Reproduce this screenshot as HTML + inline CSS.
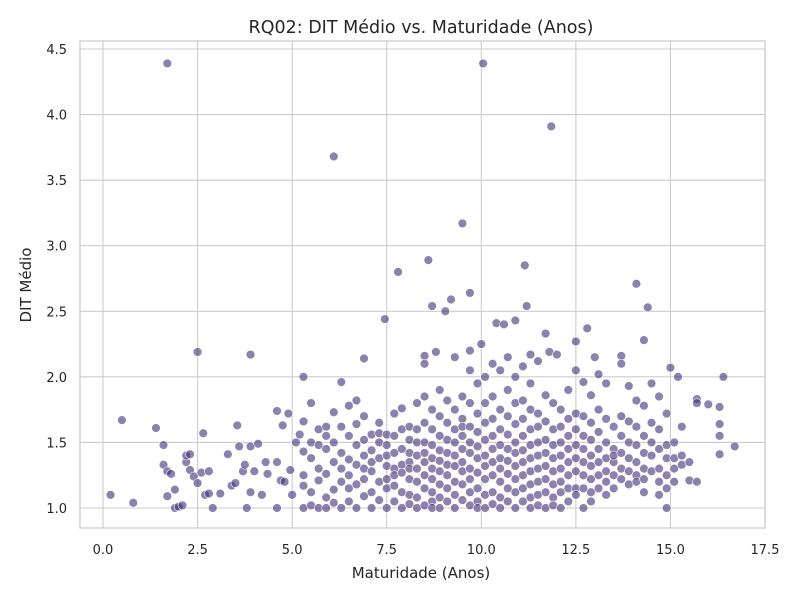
<!DOCTYPE html>
<html><head><meta charset="utf-8"><style>
body{margin:0;background:#fff;}
svg{display:block;font-family:"DejaVu Sans","Liberation Sans",sans-serif;}
</style></head><body>
<svg id="chart" width="799" height="599">
<rect x="0" y="0" width="799" height="599" fill="#fff"/>
<g id="grid"></g>
<g id="points"></g>
<rect x="80" y="41" width="685" height="487" fill="none" stroke="#ccc" stroke-width="1.3"/>
<g id="ticks"></g>
<text x="421" y="33" text-anchor="middle" font-size="17.5" fill="#262626">RQ02: DIT Médio vs. Maturidade (Anos)</text>
<text x="421" y="578" text-anchor="middle" font-size="15" fill="#262626">Maturidade (Anos)</text>
<text x="31" y="285" text-anchor="middle" font-size="15" fill="#262626" transform="rotate(-90 31 285)">DIT Médio</text>
</svg>
<script>
const xTicks=[0,2.5,5,7.5,10,12.5,15,17.5];
const xTickLabels=["0.0","2.5","5.0","7.5","10.0","12.5","15.0","17.5"];
const yTicks=[1,1.5,2,2.5,3,3.5,4,4.5];
const yTickLabels=["1.0","1.5","2.0","2.5","3.0","3.5","4.0","4.5"];
const outX=[1.7,10.05,11.85,6.1,9.5,8.6,11.15,7.8,14.1,9.7,9.2,8.7,9.05,11.2,14.4,7.45,10.9,10.4,10.6,12.8,11.7,14.3,12.5,10.0,2.5,3.9,6.9,8.8,9.7,11.8,12.0,13.7,13.0,8.5,11.3,15.0,15.2,16.4,5.3];
const outY=[4.39,4.39,3.91,3.68,3.17,2.89,2.85,2.8,2.71,2.64,2.59,2.54,2.5,2.54,2.53,2.44,2.43,2.41,2.4,2.37,2.33,2.28,2.27,2.25,2.19,2.17,2.14,2.19,2.2,2.19,2.17,2.16,2.15,2.16,2.17,2.07,2.0,2.0,2.0];
const leftX=[0.2,0.5,0.8,1.4,1.6,1.6,1.7,1.8,1.7,1.9,1.9,2.0,2.1,2.2,2.2,2.3,2.3,2.4,2.5,2.6,2.65,2.7,2.8,2.9,2.8,3.1,3.3,3.4,3.5,3.55,3.6,3.7,3.75,3.8,3.9,3.9,4.0,4.1,4.2,4.3,4.35,4.6,4.6,4.6,4.7,4.75,4.8,4.9,4.95,5.0,5.1,5.2];
const leftY=[1.1,1.67,1.04,1.61,1.48,1.33,1.28,1.26,1.09,1.14,1.0,1.01,1.02,1.35,1.4,1.41,1.29,1.24,1.19,1.27,1.57,1.1,1.28,1.0,1.11,1.11,1.41,1.17,1.19,1.63,1.47,1.28,1.33,1.0,1.47,1.12,1.28,1.49,1.1,1.35,1.26,1.74,1.35,1.0,1.21,1.63,1.2,1.72,1.29,1.1,1.5,1.56];
const rowX=[5.3,5.5,5.7,5.9,6.1,6.3,6.5,6.7,6.9,7.1,7.3,7.5,7.7,7.9,8.1,8.3,8.5,8.7,8.9,9.1,9.3,9.5,9.7,9.9,10.1,10.3,10.5,10.7,10.9,11.1,11.3,11.5,11.7,11.9,12.1,12.3,12.5,12.7,12.9,13.1,13.3,13.5,13.7,13.9,14.1,14.3,14.5,14.7,14.9,15.1,15.3,15.5,15.7,16.0,16.3,16.7];
const rowY=[[1.66,1.43,1.25,1.0,1.17],[1.8,1.5,1.38,1.12,1.02],[1.6,1.3,1.21,1.0,1.48],[1.55,1.45,1.08,1.0,1.62,1.26],[1.73,1.5,1.35,1.14,1.04],[1.96,1.62,1.42,1.2,1.0,1.3],[1.78,1.55,1.37,1.15,1.05,1.25],[1.82,1.64,1.48,1.33,1.18,1.0],[1.7,1.52,1.4,1.22,1.09,1.3],[1.56,1.44,1.35,1.28,1.12,1.0],[1.65,1.5,1.38,1.2,1.06,1.57],[1.48,1.32,1.22,1.15,1.0,1.56,1.4],[1.72,1.55,1.42,1.3,1.17,1.05,1.25],[1.76,1.6,1.45,1.33,1.27,1.12,1.0],[1.62,1.52,1.42,1.35,1.22,1.1,1.03,1.3],[1.8,1.6,1.5,1.4,1.3,1.2,1.08,1.0],[2.1,1.85,1.65,1.5,1.42,1.35,1.25,1.15,1.02],[1.75,1.6,1.48,1.38,1.3,1.22,1.12,1.05,1.0],[1.9,1.7,1.55,1.44,1.36,1.28,1.18,1.08,1.0],[1.82,1.65,1.52,1.42,1.33,1.25,1.15,1.05],[2.15,1.75,1.6,1.5,1.4,1.32,1.2,1.1,1.0],[1.85,1.68,1.55,1.45,1.35,1.28,1.18,1.06,1.62],[2.05,1.8,1.62,1.5,1.42,1.3,1.22,1.12,1.02],[1.95,1.72,1.58,1.47,1.38,1.27,1.15,1.05,1.0],[1.8,1.65,1.52,1.4,1.32,1.22,1.1,1.0,2.0],[2.1,1.85,1.68,1.55,1.45,1.35,1.25,1.12,1.03],[2.05,1.75,1.6,1.48,1.38,1.3,1.2,1.08,1.0],[2.15,1.9,1.7,1.56,1.45,1.36,1.26,1.15,1.05],[2.0,1.8,1.64,1.5,1.42,1.32,1.22,1.12,1.0],[2.08,1.82,1.68,1.55,1.44,1.35,1.25,1.15,1.05],[1.95,1.75,1.6,1.48,1.38,1.28,1.18,1.08,1.0],[2.12,1.72,1.62,1.5,1.4,1.3,1.2,1.1,1.02],[1.86,1.66,1.52,1.42,1.32,1.22,1.12,1.0],[1.8,1.6,1.48,1.38,1.28,1.18,1.08,1.02],[1.75,1.62,1.5,1.4,1.3,1.2,1.12,1.0],[1.9,1.68,1.55,1.45,1.35,1.25,1.15,1.05],[2.05,1.72,1.6,1.48,1.38,1.28,1.15,1.1],[1.96,1.7,1.55,1.45,1.35,1.25,1.15,1.0],[1.86,1.65,1.52,1.4,1.32,1.22,1.12,1.05],[2.02,1.75,1.58,1.45,1.35,1.25,1.15],[1.95,1.68,1.5,1.38,1.28,1.2,1.1],[1.62,1.45,1.35,1.25,1.15,1.4],[2.1,1.7,1.55,1.42,1.3,1.22],[1.93,1.66,1.5,1.38,1.28,1.18],[1.82,1.62,1.48,1.35,1.25,1.2],[1.78,1.55,1.42,1.3,1.22,1.12],[1.95,1.65,1.5,1.4,1.28],[1.85,1.6,1.45,1.3,1.2,1.1],[1.72,1.48,1.38,1.25,1.15,1.0],[1.5,1.38,1.3,1.2],[1.62,1.4,1.33],[1.35,1.21],[1.83,1.8,1.2],[1.79],[1.77,1.64,1.55,1.41],[1.47]];
const NS="http://www.w3.org/2000/svg";
const X0=80,X1=765,Y0=41,Y1=528;
function sx(v){return 103+v*(765-103)/17.5;}
function sy(v){return 508-(v-1)*(508-49)/3.5;}
function mk(t,a){const e=document.createElementNS(NS,t);for(const k in a)e.setAttribute(k,a[k]);return e;}
const grid=document.getElementById('grid'),ticks=document.getElementById('ticks'),pts=document.getElementById('points');
xTicks.forEach((v,i)=>{
 const l=mk('line',{x1:sx(v),x2:sx(v),y1:Y0,y2:Y1,stroke:'#ccc','stroke-width':1.1});
 
 
 grid.appendChild(l);
 const t=mk('text',{x:sx(v),y:Y1+26,'text-anchor':'middle','font-size':13,fill:'#262626'});
 t.textContent=xTickLabels[i];
 
 
 ticks.appendChild(t);
});
yTicks.forEach((v,i)=>{
 const l=mk('line',{x1:X0,x2:X1,y1:sy(v),y2:sy(v),stroke:'#ccc','stroke-width':1.1});
 
 
 grid.appendChild(l);
 const t=mk('text',{x:X0-13,y:sy(v)+5,'text-anchor':'end','font-size':13,fill:'#262626'});
 t.textContent=yTickLabels[i];
 
 
 ticks.appendChild(t);
});
function dot(x,y){
 const c=mk('circle',{cx:sx(x),cy:sy(y),r:4.4,fill:'#3f2f78','fill-opacity':0.6,stroke:'#fff','stroke-width':0.6});
 
 
 pts.appendChild(c);
}
outX.forEach((x,i)=>dot(x,outY[i]));
leftX.forEach((x,i)=>dot(x,leftY[i]));
rowX.forEach((x,i)=>rowY[i].forEach(y=>dot(x,y)));
</script>
</body></html>
